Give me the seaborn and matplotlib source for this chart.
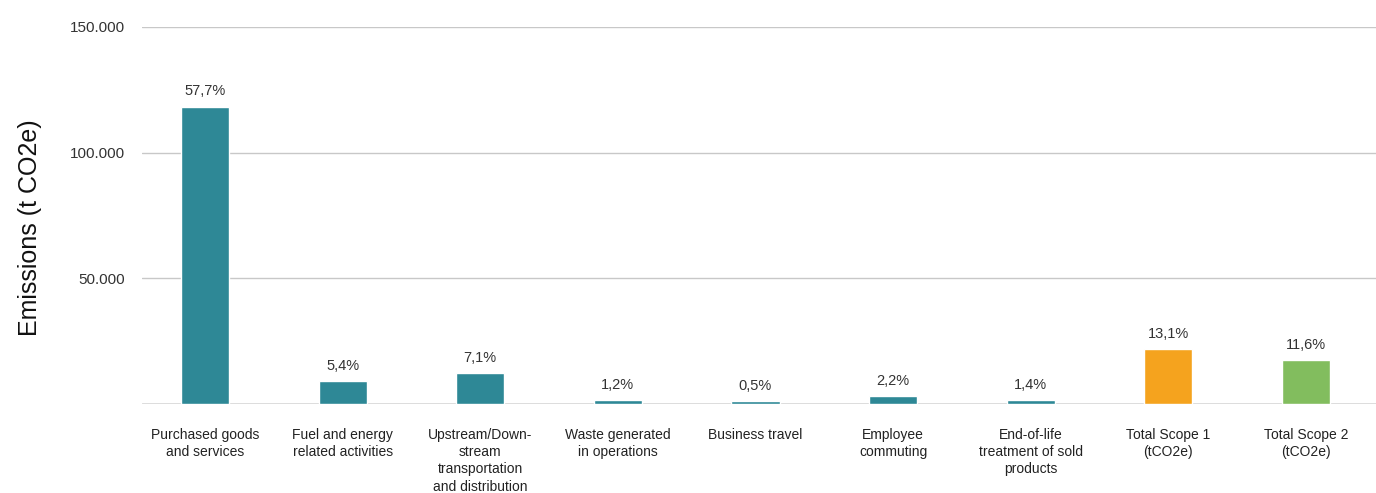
import matplotlib
matplotlib.use('Agg')
import matplotlib.pyplot as plt
import matplotlib.ticker as mticker
from matplotlib import font_manager
import pandas as pd
import seaborn as sns

# categories and values
categories = ['Purchased goods\nand services',
              'Fuel and energy\nrelated activities',
              'Upstream/Down-\nstream\ntransportation\nand distribution',
              'Waste generated\nin operations',
              'Business travel',
              'Employee\ncommuting',
              'End-of-life\ntreatment of sold\nproducts',
              'Total Scope 1\n(tCO2e)',
              'Total Scope 2\n(tCO2e)']
emissions = [118300, 9200, 12400, 1600, 1000, 3200, 1600, 21900, 17500]
shares = ['57,7%', '5,4%', '7,1%', '1,2%', '0,5%', '2,2%', '1,4%', '13,1%', '11,6%']
barColors = ['#2E8896'] * 7 + ['#F5A31E', '#82BD5E']

df = pd.DataFrame({'category': categories, 'emissions': emissions})

sns.set_style('white')
plt.rcParams['font.family'] = ['Liberation Sans', 'DejaVu Sans']

# a narrow face for the category labels if one is around
installed = {f.name for f in font_manager.fontManager.ttflist}
labelFamily = 'Liberation Sans Narrow' if 'Liberation Sans Narrow' in installed else 'Liberation Sans'
labelSize = 11 if labelFamily == 'Liberation Sans Narrow' else 10

fig = plt.figure(figsize=(13.76, 4.93), dpi=100)
ax = fig.add_axes([0.103, 0.1805, 0.897, 0.765])

sns.barplot(data=df, x='category', y='emissions', hue='category',
            palette=barColors, width=0.35, legend=False, ax=ax, saturation=1)

ax.set_ylim(0, 150000)
ax.set_xlim(-0.46, 8.51)
ax.yaxis.set_major_locator(mticker.FixedLocator([50000, 100000, 150000]))
ax.yaxis.set_major_formatter(mticker.FuncFormatter(lambda v, p: f'{int(v):,}'.replace(',', '.')))
ax.grid(axis='y', color='#c8c8c8', linewidth=1)
ax.set_axisbelow(True)
ax.axhline(0, color='#d9d9d9', linewidth=2, zorder=0)
for s in ax.spines.values():
    s.set_visible(False)

ax.tick_params(axis='y', length=0, pad=12, labelsize=11, labelcolor='#333333')
ax.tick_params(axis='x', length=0, pad=17)
ax.set_xticks(range(len(categories)))
ax.set_xticklabels(categories, fontsize=labelSize, color='#222222', linespacing=1.3,
                   family=labelFamily, va='top')

ax.set_xlabel('')
ax.set_ylabel('')
fig.text(30 / 1376, 1 - 228 / 493, 'Emissions (t CO2e)', rotation=90,
         ha='center', va='center', fontsize=18, color='#111111')

# percentage labels on top of bars
for i, (v, lab) in enumerate(zip(emissions, shares)):
    ax.annotate(lab, (i, v), xytext=(0, 6), textcoords='offset points',
                ha='center', va='bottom', fontsize=10.5, color='#333333')

fig.savefig('out.png', dpi=100)
